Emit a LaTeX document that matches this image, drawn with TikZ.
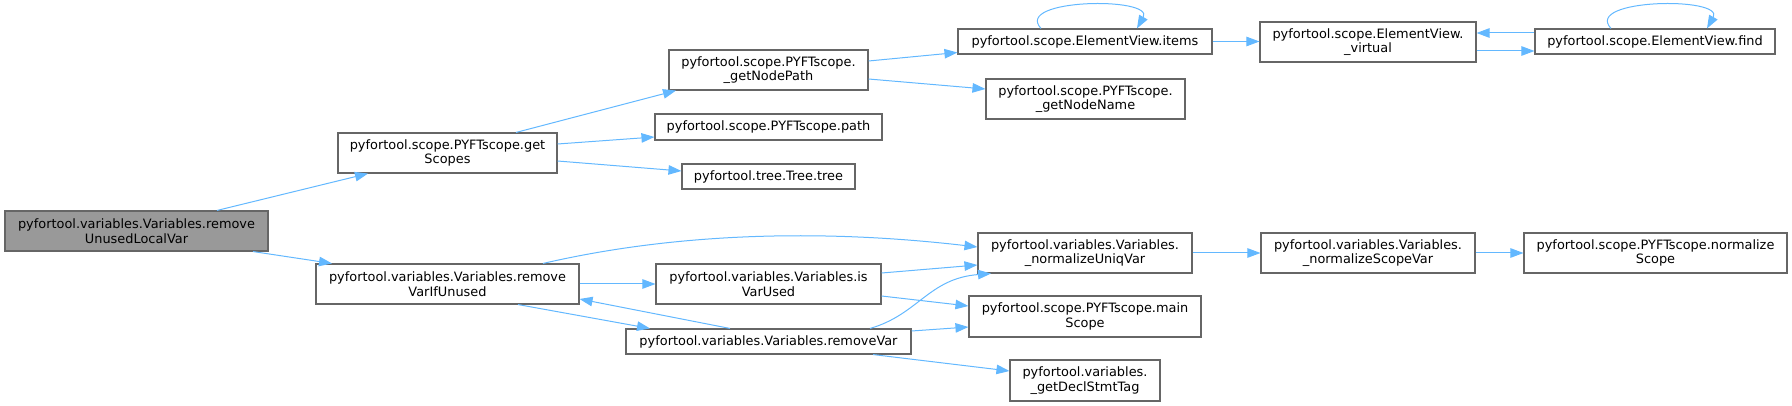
\documentclass[tikz,border=0pt]{standalone}
\usepackage{fontspec}
\setmainfont{DejaVu Sans}
\usetikzlibrary{arrows.meta,calc}
\definecolor{edgeblue}{HTML}{63B8FF}
\definecolor{boxborder}{HTML}{666666}
\definecolor{boxgrey}{HTML}{999999}
\tikzset{
  fn/.style={draw=boxborder, line width=1.1pt, fill=white, inner sep=0pt, align=center,
    font=\fontsize{12.9}{14.7}\selectfont, text=black},
  fnmain/.style={fn, fill=boxgrey},
  call/.style={draw=edgeblue, line width=1pt, -{Triangle[length=13pt,width=9.5pt]}, fill=none},
}
\begin{document}
\begin{tikzpicture}[x=1pt,y=-1pt]
\useasboundingbox (0,0) rectangle (1792,406);
% nodes
\node[fnmain, minimum width=263pt, minimum height=40pt] (ruv) at (136.5,231) {pyfortool.variables.Variables.remove\\UnusedLocalVar};
\node[fn, minimum width=219pt, minimum height=40pt] (gs) at (447.5,153) {pyfortool.scope.PYFTscope.get\\Scopes};
\node[fn, minimum width=263pt, minimum height=40pt] (rvu) at (447.5,284) {pyfortool.variables.Variables.remove\\VarIfUnused};
\node[fn, minimum width=199pt, minimum height=40pt] (gnp) at (768.5,70) {pyfortool.scope.PYFTscope.\\\_getNodePath};
\node[fn, minimum width=227pt, minimum height=26pt] (path) at (768.5,127) {pyfortool.scope.PYFTscope.path};
\node[fn, minimum width=173pt, minimum height=25pt] (tree) at (768.5,176.5) {pyfortool.tree.Tree.tree};
\node[fn, minimum width=225pt, minimum height=40pt] (ivu) at (768.5,284) {pyfortool.variables.Variables.is\\VarUsed};
\node[fn, minimum width=285pt, minimum height=25pt] (rv) at (768.5,341.5) {pyfortool.variables.Variables.removeVar};
\node[fn, minimum width=254pt, minimum height=25pt] (items) at (1085,41.5) {pyfortool.scope.ElementView.items};
\node[fn, minimum width=199pt, minimum height=40pt] (gnn) at (1085.5,99) {pyfortool.scope.PYFTscope.\\\_getNodeName};
\node[fn, minimum width=214pt, minimum height=40pt] (nuv) at (1085,253) {pyfortool.variables.Variables.\\\_normalizeUniqVar};
\node[fn, minimum width=232pt, minimum height=41pt] (ms) at (1085,316.5) {pyfortool.scope.PYFTscope.main\\Scope};
\node[fn, minimum width=150pt, minimum height=41pt] (gdt) at (1085,380.5) {pyfortool.variables.\\\_getDeclStmtTag};
\node[fn, minimum width=216pt, minimum height=40pt] (virt) at (1368,42) {pyfortool.scope.ElementView.\\\_virtual};
\node[fn, minimum width=214pt, minimum height=40pt] (nsv) at (1368,253) {pyfortool.variables.Variables.\\\_normalizeScopeVar};
\node[fn, minimum width=240pt, minimum height=25pt] (find) at (1655,41.5) {pyfortool.scope.ElementView.find};
\node[fn, minimum width=263pt, minimum height=40pt] (ns) at (1655.5,253) {pyfortool.scope.PYFTscope.normalize\\Scope};
% helper coordinates
\coordinate (vfa) at ($(virt.east)+(0,9)$);
\coordinate (fva) at ($(find.west)+(0,-8.5)$);
% edges
\draw[call] ($(ruv.north)+(80.5,0)$) -- ($(gs.south)+(-79.5,0)$);
\draw[call] ($(ruv.south)+(116.5,0)$) -- ($(rvu.north)+(-115.5,0)$);
\draw[call] ($(gs.north)+(68.5,0)$) -- ($(gnp.south)+(-92.5,0)$);
\draw[call] ($(gs.east)+(0,-9)$) -- ($(path.west)+(0,10)$);
\draw[call] ($(gs.east)+(0,8)$) -- ($(tree.west)+(0,-5.5)$);
\draw[call] ($(gnp.east)+(0,-9)$) -- ($(items.west)+(0,11)$);
\draw[call] ($(gnp.east)+(0,9)$) -- ($(gnn.west)+(0,-10)$);
\draw[call] ($(items.north)+(-44,0)$) .. controls ($(items.north)+(-72,-30)$) and ($(items.north)+(70,-32)$) .. ($(items.north)+(52,0)$);
\draw[call] (items.east) -- (items.east -| virt.west);
\draw[call] (vfa) -- (vfa -| find.west);
\draw[call] (fva) -- (fva -| virt.east);
\draw[call] ($(find.north)+(-44,0)$) .. controls ($(find.north)+(-72,-30)$) and ($(find.north)+(70,-32)$) .. ($(find.north)+(52,0)$);
\draw[call] ($(rvu.north)+(95.5,0)$) .. controls ($(rvu.north)+(165,-16)$) and ($(rvu.north)+(310,-42)$) .. ($(nuv.west)+(0,-6)$);
\draw[call] (rvu.east) -- (ivu.west);
\draw[call] ($(rvu.south)+(70.5,0)$) -- ($(rv.north)+(-118.5,0)$);
\draw[call] ($(rv.north)+(-38.5,0)$) -- ($(rvu.east)+(0,15)$);
\draw[call] ($(ivu.east)+(0,-11)$) -- ($(nuv.west)+(0,12)$);
\draw[call] ($(ivu.east)+(0,12)$) -- ($(ms.west)+(0,-10.5)$);
\draw[call] ($(rv.north)+(101.5,0)$) .. controls ($(rv.north)+(150,-14)$) and ($(rv.north)+(160,-50)$) .. ($(nuv.south)+(-94,0)$);
\draw[call] ($(rv.east)+(0,-10.5)$) -- ($(ms.west)+(0,10.5)$);
\draw[call] ($(rv.south)+(104.5,0)$) -- ($(gdt.west)+(0,-9.5)$);
\draw[call] (nuv.east) -- (nsv.west);
\draw[call] (nsv.east) -- (ns.west);
\end{tikzpicture}
\end{document}
